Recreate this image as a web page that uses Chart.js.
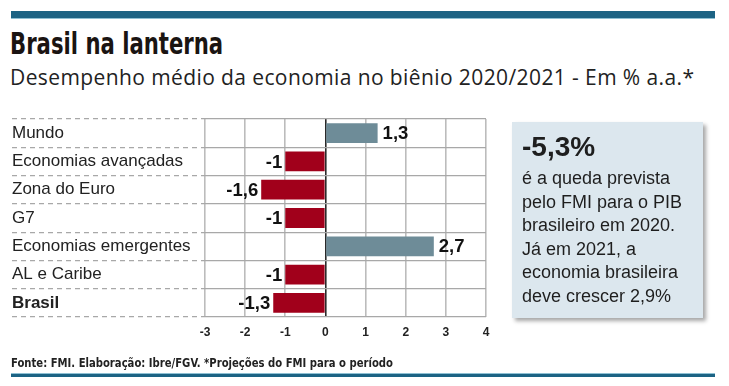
<!DOCTYPE html>
<html>
<head>
<meta charset="utf-8">
<script src="https://cdn.jsdelivr.net/npm/chart.js@4.4.1/dist/chart.umd.min.js"></script>
<style>
  html, body { margin:0; padding:0; background:#ffffff; }
  #wrap { position:relative; width:729px; height:386px; overflow:hidden; background:#fff; }
  #c { position:absolute; left:0; top:0; }
  .bar { position:absolute; left:11px; width:704px; background:#1c6384; }
  #topbar { top:11px; height:7px; border-bottom:1px solid #8ec0d3; }
  #botbar { top:373px; height:3px; border-top:1px solid #8ec0d3; }
  #title { position:absolute; left:10px; top:26px; font-family:"DejaVu Sans Condensed",sans-serif; font-weight:bold; font-size:30px; color:#1a1412; white-space:nowrap; transform:scaleX(0.785); transform-origin:0 0; }
  #subtitle { position:absolute; left:10px; top:63px; font-family:"Open Sans",sans-serif; font-size:21px; letter-spacing:0.4px; color:#222; white-space:nowrap; }
  #footer { position:absolute; left:11px; top:355px; font-family:"DejaVu Sans Condensed",sans-serif; font-weight:bold; font-size:12.5px; color:#222; white-space:nowrap; transform:scaleX(0.895); transform-origin:0 0; }
  #box { position:absolute; left:512px; top:122px; width:191px; height:196px; background:#dce7ee; box-shadow:3px 3px 4px rgba(0,0,0,0.35); box-sizing:border-box; padding:7px 0 0 10px; font-family:"Liberation Sans",sans-serif; color:#1e1e1e; }
  #box .big { font-weight:bold; font-size:28px; line-height:36px; }
  #box .txt { font-size:18px; line-height:23.6px; margin-top:2px; }
</style>
</head>
<body>
<div id="wrap">
  <div id="topbar" class="bar"></div>
  <div id="title">Brasil na lanterna</div>
  <div id="subtitle">Desempenho médio da economia no biênio 2020/2021 - Em % a.a.*</div>
  <canvas id="c" width="729" height="386"></canvas>
  <div id="box">
    <div class="big">-5,3%</div>
    <div class="txt">é a queda prevista<br>pelo FMI para o PIB<br>brasileiro em 2020.<br>Já em 2021, a<br>economia brasileira<br>deve crescer 2,9%</div>
  </div>
  <div id="footer">Fonte: FMI. Elaboração: Ibre/FGV. *Projeções do FMI para o período</div>
  <div id="botbar" class="bar"></div>
</div>
<script>
const categories = ["Mundo", "Economias avançadas", "Zona do Euro", "G7", "Economias emergentes", "AL e Caribe", "Brasil"];
const values = [1.3, -1, -1.6, -1, 2.7, -1, -1.3];
const valueLabels = ["1,3", "-1", "-1,6", "-1", "2,7", "-1", "-1,3"];
const xTicks = [-3, -2, -1, 0, 1, 2, 3, 4];

const POS = '#6e8c98', NEG = '#a1001b';

const valueLabelPlugin = {
  id: 'valueLabels',
  afterDatasetsDraw(chart) {
    const ctx = chart.ctx;
    const meta = chart.getDatasetMeta(0);
    ctx.save();
    ctx.font = 'bold 18.5px "Liberation Sans", sans-serif';
    ctx.fillStyle = '#111';
    ctx.textBaseline = 'middle';
    meta.data.forEach((bar, i) => {
      const v = values[i];
      if (v >= 0) { ctx.textAlign = 'left'; ctx.fillText(valueLabels[i], bar.x + 5, bar.y + 1); }
      else { ctx.textAlign = 'right'; ctx.fillText(valueLabels[i], bar.x - 3, bar.y + 1); }
    });
    ctx.restore();
  }
};

new Chart(document.getElementById('c'), {
  type: 'bar',
  data: {
    labels: categories,
    datasets: [{
      data: values,
      backgroundColor: values.map(v => v >= 0 ? POS : NEG),
      borderWidth: 0,
      barPercentage: 0.7,
      categoryPercentage: 1.0
    }]
  },
  options: {
    indexAxis: 'y',
    responsive: false,
    animation: false,
    devicePixelRatio: 1,
    layout: { padding: { left: 12, right: 243, top: 119, bottom: 39 } },
    plugins: { legend: { display: false }, tooltip: { enabled: false } },
    scales: {
      x: {
        min: -3, max: 4,
        afterBuildTicks(scale) { scale.ticks = xTicks.map(v => ({ value: v })); },
        afterFit(scale) { scale.height = 30; },
        border: { display: false },
        grid: {
          drawTicks: false,
          lineWidth: 1.6,
          color: ctx => ctx.tick && ctx.tick.value === 0 ? '#2a2a2a' : '#bcbcbc'
        },
        ticks: {
          padding: 8,
          color: '#222',
          font: { family: '"Liberation Sans", sans-serif', size: 12, weight: 'bold' },
          callback: v => String(v)
        }
      },
      y: {
        afterFit(scale) { scale.width = 193; },
        border: { display: false },
        grid: {
          offset: true,
          drawTicks: true,
          tickLength: 193,
          color: '#a8a8a8',
          tickColor: '#a8a8a8',
          lineWidth: 1.2,
          tickWidth: 1.2,
          borderDash: [5, 4],
          tickBorderDash: [5, 4]
        },
        ticks: {
          crossAlign: 'far',
          padding: 0,
          color: '#222',
          font: ctx => ({ family: '"Liberation Sans", sans-serif', size: 17, weight: ctx.index === 6 ? 'bold' : 'normal' })
        }
      }
    }
  },
  plugins: [valueLabelPlugin]
});
</script>
</body>
</html>
